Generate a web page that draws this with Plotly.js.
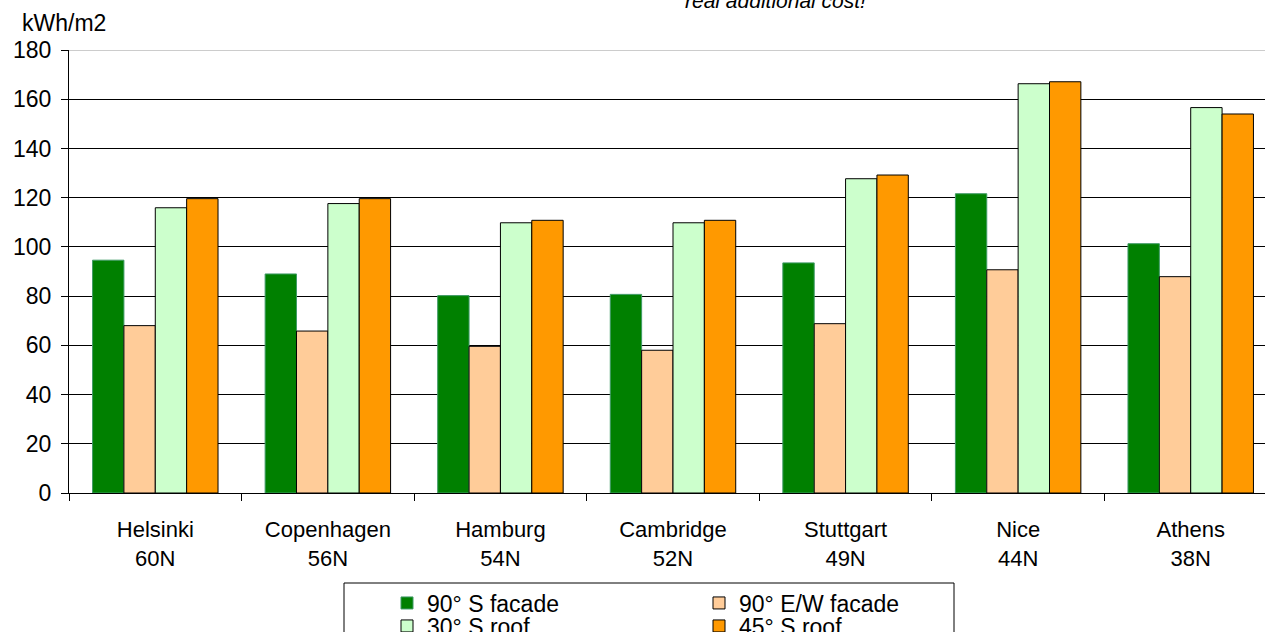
<!DOCTYPE html>
<html>
<head>
<meta charset="utf-8">
<script src="https://cdn.plot.ly/plotly-3.0.1.min.js"></script>
<style>
html,body{margin:0;padding:0;overflow:hidden;background:#fff;}
#chart{width:1280px;height:632px;}
</style>
</head>
<body>
<div id="chart"></div>
<script>
var cities = ["Helsinki", "Copenhagen", "Hamburg", "Cambridge", "Stuttgart", "Nice", "Athens"];
var latitudes = ["60N", "56N", "54N", "52N", "49N", "44N", "38N"];
var seriesNames = ["90° S facade", "90° E/W facade", "30° S roof", "45° S roof"];
var sFacade90 = [94.6, 89.0, 80.2, 80.7, 93.5, 121.6, 101.3];
var ewFacade90 = [68.0, 65.8, 59.6, 58.0, 68.8, 90.7, 87.9];
var sRoof30 = [115.9, 117.6, 109.8, 109.8, 127.7, 166.3, 156.6];
var sRoof45 = [119.6, 119.6, 110.8, 110.8, 129.2, 167.1, 154.0];
var yTickVals = [0, 20, 40, 60, 80, 100, 120, 140, 160, 180];
var yUnit = "kWh/m2";
var topNote = "real additional cost!";

var fillColors = ["#008000", "#FFCC99", "#CCFFCC", "#FF9900"];
var lineColors = ["#3f9a66", "#000000", "#000000", "#000000"];
var legendIds = ["legend", "legend", "legend2", "legend2"];
var FONT = "Liberation Sans, Arial, sans-serif";

var cats = cities.map(function(c, i){ return c + "<br>" + latitudes[i]; });
var values = [sFacade90, ewFacade90, sRoof30, sRoof45];

var traces = values.map(function(v, i){
  return {
    type: "bar",
    name: seriesNames[i],
    x: cats,
    y: v,
    legend: legendIds[i],
    marker: {color: fillColors[i], line: {color: lineColors[i], width: 1}},
    hoverinfo: "x+y+name"
  };
});

// pixel helpers for the plot frame
var W = 1280, H = 632, L = 69, R = 3, T = 50, B = 139;
var pw = W - L - R, ph = H - T - B;
function px(x){ return (x - L) / pw; }
function py(y){ return (H - B - y) / ph; }

var layout = {
  width: W, height: H,
  margin: {l: L, r: R, t: T, b: B, autoexpand: false},
  paper_bgcolor: "#fff",
  plot_bgcolor: "#fff",
  font: {family: FONT, size: 22, color: "#000"},
  barmode: "group",
  bargap: 0.273,
  bargroupgap: 0,
  xaxis: {
    type: "category",
    showline: true, linecolor: "#000", linewidth: 1,
    ticks: "outside", tickson: "boundaries", ticklen: 7, tickcolor: "#000",
    ticklabelstandoff: 17,
    tickfont: {family: FONT, size: 22, color: "#000"},
    showgrid: false, zeroline: false, fixedrange: true
  },
  yaxis: {
    range: [0, 180],
    tickvals: yTickVals,
    showline: true, linecolor: "#000", linewidth: 1,
    ticks: "outside", ticklen: 7, tickcolor: "#000",
    ticklabelstandoff: 5,
    tickfont: {family: FONT, size: 23, color: "#000"},
    showgrid: true, gridcolor: "#000", gridwidth: 1,
    zeroline: false, fixedrange: true
  },
  legend: {
    orientation: "h", xref: "paper", yref: "paper",
    x: px(387), y: py(603), xanchor: "left", yanchor: "middle",
    entrywidth: 267, entrywidthmode: "pixels",
    font: {family: FONT, size: 23, color: "#000"},
    bgcolor: "rgba(0,0,0,0)", borderwidth: 0,
    traceorder: "normal"
  },
  legend2: {
    orientation: "h", xref: "paper", yref: "paper",
    x: px(387), y: py(626), xanchor: "left", yanchor: "middle",
    entrywidth: 267, entrywidthmode: "pixels",
    font: {family: FONT, size: 23, color: "#000"},
    bgcolor: "rgba(0,0,0,0)", borderwidth: 0,
    traceorder: "normal"
  },
  shapes: [
    {type: "line", xref: "paper", yref: "y", x0: 0, x1: 1, y0: 180, y1: 180,
     line: {color: "#9a9a9a", width: 1}, layer: "above"},
    {type: "rect", xref: "paper", yref: "paper",
     x0: px(344), x1: px(954), y0: py(583), y1: py(660),
     line: {color: "#000", width: 1}, fillcolor: "rgba(0,0,0,0)", layer: "above"}
  ],
  annotations: [
    {text: yUnit, xref: "paper", yref: "paper", x: px(20), y: py(38),
     xanchor: "left", yanchor: "bottom", showarrow: false,
     font: {family: FONT, size: 23, color: "#000"}},
    {text: "<i>" + topNote + "</i>", xref: "paper", yref: "paper", x: px(775), y: py(14),
     xanchor: "center", yanchor: "bottom", showarrow: false,
     font: {family: FONT, size: 21, color: "#000"}}
  ],
  showlegend: true
};

Plotly.newPlot("chart", traces, layout, {displayModeBar: false, staticPlot: true});
</script>
</body>
</html>
